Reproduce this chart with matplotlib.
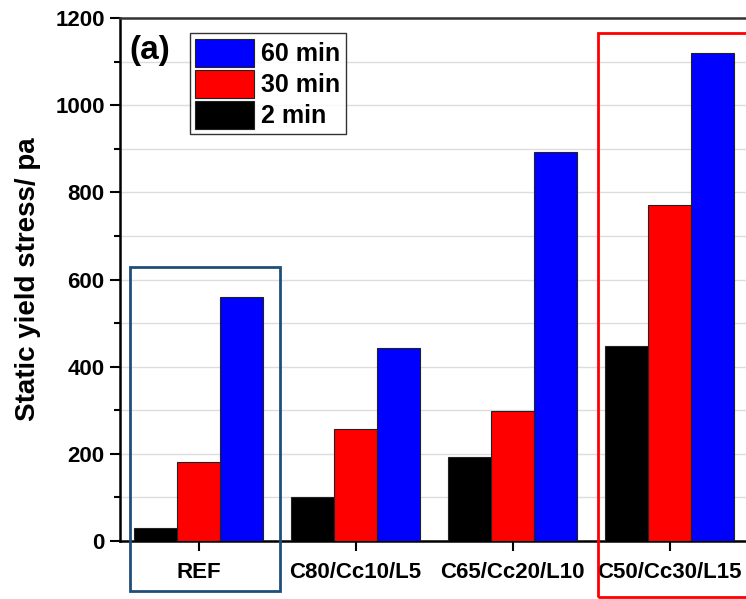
import matplotlib.pyplot as plt
import matplotlib.patches as patches
import numpy as np

plt.rcParams['font.family'] = ['Liberation Sans', 'DejaVu Sans']
plt.rcParams['font.weight'] = 'bold'

# data
mixes = ["REF", "C80/Cc10/L5", "C65/Cc20/L10", "C50/Cc30/L15"]
stress_2min = [30, 101, 193, 447]
stress_30min = [181, 257, 298, 771]
stress_60min = [560, 443, 893, 1120]

fig = plt.figure(figsize=(7.46, 5.99), dpi=100)
W, H = 746, 599
ax = fig.add_axes([120 / W, 58 / H, 628 / W, 523 / H])

x = np.arange(len(mixes))
w = 0.273
ax.bar(x - w, stress_2min, w, color='black', edgecolor='#222222', linewidth=0.8, label='2 min', zorder=3)
ax.bar(x, stress_30min, w, color='#ff0000', edgecolor='#222222', linewidth=0.8, label='30 min', zorder=3)
ax.bar(x + w, stress_60min, w, color='#0000ff', edgecolor='#222222', linewidth=0.8, label='60 min', zorder=3)

ax.set_xlim(-0.5, 3.5)
ax.set_ylim(0, 1200)
ax.set_yticks(np.arange(0, 1201, 200))
ax.set_yticks(np.arange(100, 1200, 200), minor=True)
ax.grid(axis='y', which='both', color='#dddddd', linewidth=1, zorder=0)
ax.set_xticks(x)
ax.set_xticklabels(mixes, fontsize=16, fontweight='bold')
ax.tick_params(axis='y', which='major', labelsize=16, length=7, width=1.5, direction='out', pad=4)
ax.tick_params(axis='y', which='minor', length=4, width=1.5, direction='out')
ax.tick_params(axis='x', length=7, width=1.5, direction='out', pad=8)
for lab in ax.get_yticklabels():
    lab.set_fontweight('bold')
for s in ax.spines.values():
    s.set_linewidth(1.8)
ax.spines['right'].set_visible(False)
ax.spines['top'].set_color('#333333')

ax.set_ylabel("Static yield stress/ pa", fontsize=20, fontweight='bold', labelpad=10)

handles, labels = ax.get_legend_handles_labels()
leg = ax.legend(handles[::-1], labels[::-1], loc='upper left', bbox_to_anchor=(0.111, 0.971),
                fontsize=18, frameon=True, fancybox=False, edgecolor='black',
                handlelength=2.35, handleheight=1.35, labelspacing=0.12, borderpad=0.22,
                handletextpad=0.3, borderaxespad=0)
leg.get_frame().set_linewidth(1.0)
for t in leg.get_texts():
    t.set_fontweight('bold')

ax.text(0.015, 0.968, "(a)", transform=ax.transAxes, fontsize=24, fontweight='bold', va='top', ha='left')

# highlight boxes (figure pixel coords)
fig.patches.append(patches.Rectangle((130 / W, (H - 591) / H), 150 / W, 324 / H, transform=fig.transFigure,
                                     fill=False, edgecolor='#1f4e79', linewidth=2, zorder=10))
fig.patches.append(patches.Rectangle((598 / W, (H - 597) / H), 160 / W, 564 / H, transform=fig.transFigure,
                                     fill=False, edgecolor='#ff0000', linewidth=2, zorder=10))

fig.savefig("out.png", dpi=100)
